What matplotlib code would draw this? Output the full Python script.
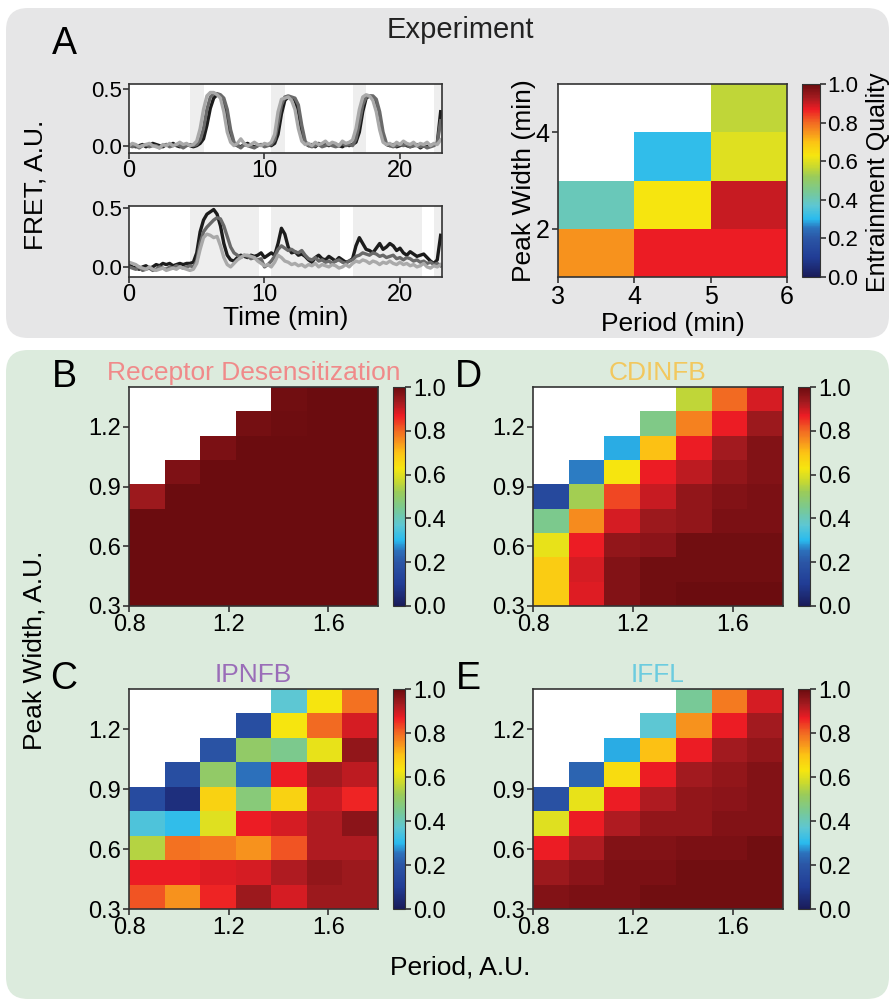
import numpy as np
import matplotlib
matplotlib.use("Agg")
import matplotlib.pyplot as plt
from matplotlib.colors import LinearSegmentedColormap
from matplotlib.patches import FancyBboxPatch
from matplotlib.transforms import IdentityTransform

plt.rcParams['font.family'] = ['Liberation Sans', 'DejaVu Sans']

# ---- experiment traces (FRET, sampled every 0.25 min) ----
time_step = 0.25
top_black = [0.01, 0.0, -0.01, 0.0, 0.01, -0.01, 0.0, 0.02, 0.01, 0.0, -0.01, 0.01, 0.0, 0.02, 0.0, -0.01, 0.0, 0.01, 0.0, -0.01,
             0.0, 0.02, 0.06,
             0.18, 0.33, 0.42, 0.45, 0.44, 0.38, 0.22, 0.07, 0.01,
             0.0, -0.01, 0.01, 0.02, 0.0, -0.01, 0.0, 0.01, 0.0, 0.01, 0.0,
             0.02, 0.1, 0.28, 0.4, 0.43, 0.42, 0.4, 0.3, 0.12, 0.02,
             0.0, 0.01, -0.01, 0.02, 0.0, 0.01, 0.0, 0.02, 0.01, 0.0, -0.01, 0.01, 0.0, 0.01,
             0.03, 0.12, 0.3, 0.42, 0.44, 0.43, 0.38, 0.22, 0.06, 0.01,
             0.0, 0.01, -0.01, 0.0, 0.01, 0.0, -0.01, 0.0, 0.01, -0.02, 0.0, -0.01, 0.0, 0.01, 0.02,
             0.3]
top_dark = [0.0, -0.01, 0.0, -0.02, 0.0, 0.01, -0.01, 0.0, 0.0, -0.02, 0.0, 0.01, -0.01, 0.0, 0.01, 0.0, -0.02, 0.0, 0.01, 0.0,
            0.01, 0.05, 0.15,
            0.32, 0.43, 0.46, 0.46, 0.45, 0.42, 0.32, 0.14, 0.03,
            0.0, -0.02, 0.01, 0.0, -0.01, -0.02, 0.0, 0.01, -0.01, 0.0, 0.01,
            0.05, 0.2, 0.36, 0.43, 0.44, 0.43, 0.42, 0.36, 0.18, 0.04,
            0.0, -0.01, 0.0, 0.01, -0.01, 0.0, 0.01, 0.0, -0.01, 0.0, 0.02, 0.0, 0.01, 0.0,
            0.06, 0.2, 0.36, 0.43, 0.44, 0.44, 0.41, 0.3, 0.12, 0.02,
            0.0, -0.01, 0.0, 0.01, 0.0, 0.01, -0.01, 0.0, 0.0, -0.01, 0.0, -0.02, -0.01, 0.0, 0.02,
            0.22]
top_light = [0.0, 0.02, 0.01, -0.01, 0.0, 0.01, 0.02, 0.0, -0.01, -0.02, 0.01, 0.0, 0.02, 0.0, 0.01, 0.03, 0.01, 0.02, 0.0, 0.01,
             0.04, 0.15, 0.32,
             0.44, 0.47, 0.47, 0.45, 0.42, 0.3, 0.12, 0.03, 0.0,
             0.02, 0.06, 0.02, 0.0, 0.01, 0.03, 0.01, 0.0, 0.02, 0.01, 0.03,
             0.1, 0.3, 0.41, 0.42, 0.43, 0.4, 0.32, 0.15, 0.04, 0.01,
             0.02, 0.0, 0.03, 0.01, 0.02, 0.04, 0.01, 0.03, 0.02, 0.0, 0.04, 0.02, 0.03, 0.05,
             0.15, 0.32, 0.43, 0.45, 0.44, 0.4, 0.3, 0.14, 0.03, 0.01,
             0.02, 0.0, 0.03, 0.01, 0.04, 0.02, 0.01, 0.03, 0.0, 0.02, 0.01, 0.03, 0.0, 0.02, 0.01,
             0.05]
bot_black = [0.02, 0.0, -0.01, -0.02, 0.0, 0.01, -0.01, 0.0, 0.02, 0.01, 0.03, 0.02, 0.03, 0.01, 0.02, 0.03, 0.02, 0.03, 0.03, 0.04,
             0.12, 0.3, 0.4, 0.45, 0.47, 0.49, 0.45, 0.35, 0.2, 0.1, 0.06, 0.05,
             0.08, 0.1, 0.09, 0.08, 0.1, 0.09, 0.1, 0.12, 0.08, 0.1, 0.12,
             0.1, 0.2, 0.33, 0.28, 0.17, 0.12, 0.13, 0.1, 0.11, 0.09,
             0.06, 0.04, 0.08, 0.1, 0.07, 0.06, 0.09, 0.07, 0.05, 0.08, 0.06, 0.04, 0.05, 0.07,
             0.18, 0.25, 0.2, 0.15, 0.14, 0.12, 0.16, 0.2, 0.15, 0.17,
             0.2, 0.18, 0.14, 0.16, 0.12, 0.1, 0.13, 0.11, 0.09, 0.1, 0.11, 0.08, 0.05, 0.03, 0.06,
             0.27]
bot_dark = [0.0, -0.01, -0.02, 0.0, -0.03, -0.02, -0.01, -0.03, -0.02, 0.0, -0.01, -0.02, 0.0, -0.01, 0.01, 0.0, -0.01, 0.0, 0.01, 0.0,
            0.05, 0.2, 0.3, 0.34, 0.37, 0.4, 0.42, 0.41, 0.35, 0.26, 0.17, 0.12,
            0.1, 0.08, 0.1, 0.09, 0.07, 0.08, 0.06, 0.07, 0.0, 0.02, 0.05,
            0.09, 0.15, 0.18, 0.16, 0.14, 0.15, 0.13, 0.12, 0.14, 0.1,
            0.07, 0.06, 0.08, 0.05, 0.06, 0.04, 0.05, 0.03, 0.05, 0.06, 0.04, 0.03, 0.05, 0.06,
            0.09, 0.1, 0.12, 0.11, 0.1, 0.12, 0.11, 0.09, 0.1, 0.08,
            0.09, 0.1, 0.07, 0.08, 0.06, 0.08, 0.07, 0.05, 0.06, 0.04, 0.05, 0.03, 0.04, 0.02, 0.03,
            0.01]
bot_light = [0.04, 0.03, 0.02, 0.0, -0.01, -0.02, 0.0, -0.02, -0.03, -0.02, -0.01, -0.03, -0.02, -0.01, -0.02, 0.0, -0.01, -0.02, -0.03, -0.02,
             0.03, 0.15, 0.25, 0.28, 0.27, 0.25, 0.26, 0.18, 0.08, 0.02, 0.0, 0.03,
             0.06, 0.08, 0.1, 0.1, 0.09, 0.08, 0.05, 0.03, 0.01, 0.02, 0.0,
             0.04, 0.1, 0.08, 0.05, 0.04, 0.02, 0.03, 0.01, 0.02, 0.0,
             0.02, 0.01, 0.03, 0.0, 0.02, 0.01, 0.0, 0.02, 0.01, -0.01, 0.0, 0.02, 0.0, 0.03,
             0.05, 0.04, 0.06, 0.05, 0.03, 0.05, 0.04, 0.02, 0.04, 0.03,
             0.05, 0.03, 0.02, 0.04, 0.02, 0.03, 0.01, 0.02, 0.0, 0.01, 0.03, 0.0, -0.01, 0.01, 0.0,
             0.02]

# stimulus windows (start, width) in minutes
stim_starts = [4.5, 10.5, 16.5, 22.5]
top_stim_width = 1.0
bot_stim_width = 5.1

# ---- experimental entrainment quality (rows: peak width 1-2,2-3,3-4,4-5) ----
exp_period_edges = [3, 4, 5, 6]
exp_width_edges = [1, 2, 3, 4, 5]
exp_quality = [[0.75, 0.87, 0.87],
               [0.40, 0.63, 0.90],
               [np.nan, 0.31, 0.60],
               [np.nan, np.nan, 0.56]]

# ---- model grids (rows bottom -> top, cols period 0.8 -> 1.8) ----
n = np.nan
period_edges = np.linspace(0.8, 1.8, 8)
width_edges = np.linspace(0.3, 1.4, 10)

receptor_desens = [[1.0, 1.0, 1.0, 1.0, 1.0, 1.0, 1.0],
                   [1.0, 1.0, 1.0, 1.0, 1.0, 1.0, 1.0],
                   [1.0, 1.0, 1.0, 1.0, 1.0, 1.0, 1.0],
                   [1.0, 1.0, 1.0, 1.0, 1.0, 1.0, 1.0],
                   [0.94, 1.0, 1.0, 1.0, 1.0, 1.0, 1.0],
                   [n, 0.975, 1.0, 1.0, 1.0, 1.0, 1.0],
                   [n, n, 0.98, 1.0, 1.0, 1.0, 1.0],
                   [n, n, n, 0.985, 0.995, 1.0, 1.0],
                   [n, n, n, n, 0.99, 1.0, 1.0]]

cdinfb = [[0.68, 0.88, 0.97, 0.99, 1.0, 1.0, 1.0],
          [0.68, 0.89, 0.97, 0.99, 0.99, 0.99, 0.99],
          [0.61, 0.87, 0.95, 0.96, 0.99, 0.99, 0.99],
          [0.45, 0.76, 0.89, 0.94, 0.95, 0.98, 0.98],
          [0.15, 0.53, 0.83, 0.90, 0.95, 0.97, 0.98],
          [n, 0.26, 0.63, 0.87, 0.91, 0.95, 0.97],
          [n, n, 0.29, 0.70, 0.87, 0.93, 0.97],
          [n, n, n, 0.46, 0.77, 0.87, 0.94],
          [n, n, n, n, 0.56, 0.80, 0.89]]

ipnfb = [[0.82, 0.75, 0.86, 0.94, 0.89, 0.94, 0.94],
         [0.87, 0.87, 0.88, 0.89, 0.92, 0.95, 0.94],
         [0.55, 0.79, 0.78, 0.75, 0.82, 0.92, 0.92],
         [0.35, 0.31, 0.60, 0.87, 0.89, 0.92, 0.96],
         [0.16, 0.06, 0.67, 0.48, 0.67, 0.90, 0.86],
         [n, 0.17, 0.50, 0.25, 0.87, 0.93, 0.91],
         [n, n, 0.19, 0.50, 0.45, 0.61, 0.95],
         [n, n, n, 0.17, 0.63, 0.80, 0.89],
         [n, n, n, n, 0.37, 0.63, 0.79]]

iffl = [[0.97, 0.98, 0.98, 0.99, 0.99, 0.99, 0.99],
        [0.94, 0.96, 0.98, 0.98, 0.99, 0.99, 0.99],
        [0.87, 0.92, 0.97, 0.97, 0.98, 0.98, 0.99],
        [0.60, 0.87, 0.92, 0.95, 0.95, 0.97, 0.97],
        [0.18, 0.61, 0.87, 0.92, 0.95, 0.96, 0.97],
        [n, 0.23, 0.65, 0.87, 0.93, 0.95, 0.97],
        [n, n, 0.29, 0.70, 0.87, 0.93, 0.95],
        [n, n, n, 0.37, 0.75, 0.87, 0.93],
        [n, n, n, n, 0.44, 0.78, 0.89]]

cmap = LinearSegmentedColormap.from_list('eq', [
    (0.00, '#1a1c5a'), (0.10, '#213d95'), (0.20, '#2b56a6'), (0.25, '#2c6fba'),
    (0.30, '#2abbee'), (0.37, '#5ec7d2'), (0.45, '#7cc98e'), (0.52, '#9acb5a'),
    (0.57, '#c8d930'), (0.63, '#f6e60f'), (0.70, '#fcc314'), (0.75, '#f7941d'),
    (0.80, '#f26a22'), (0.87, '#ed1c24'), (0.93, '#a51b20'), (1.00, '#6b0c0f')])
cmap.set_bad('white')

W, H = 892, 1002
fig = plt.figure(figsize=(W / 100, H / 100), dpi=100)


def ax_px(x0, y0, x1, y1):
    # pixel box (top-left origin) -> axes
    return fig.add_axes([x0 / W, 1 - y1 / H, (x1 - x0) / W, (y1 - y0) / H])


# background panels
for (x0, y0, x1, y1, col) in [(6, 8, 889, 338, '#e6e6e7'), (6, 350, 889, 999, '#dcebdd')]:
    fig.patches.append(FancyBboxPatch((x0, H - y1), x1 - x0, y1 - y0,
                                      boxstyle='round,pad=0,rounding_size=22',
                                      transform=IdentityTransform(), facecolor=col,
                                      edgecolor='none', zorder=-10))

spine_col = '#333333'


def style_spines(ax):
    for s in ax.spines.values():
        s.set_color(spine_col)
        s.set_linewidth(1.2)
    ax.tick_params(colors='black', width=1.2, length=4, color=spine_col)


# ---- traces ----
t = np.arange(len(top_black)) * time_step
trace_cols = ['#1c1c1c', '#6a6a6a', '#a9a9a9']
for (y0, y1, series, width, ylim, order) in [
        (84, 153, [top_black, top_dark, top_light], top_stim_width, (-0.065, 0.545), [0, 1, 2]),
        (206, 277, [bot_black, bot_dark, bot_light], bot_stim_width, (-0.086, 0.52), [1, 2, 0])]:
    ax = ax_px(129, y0, 442, y1)
    ax.set_facecolor('white')
    for s in stim_starts:
        ax.axvspan(s, s + width, color='#eeeeee', lw=0, zorder=0)
    for k in order:
        ax.plot(t, series[k], color=trace_cols[k], lw=2.4, zorder=2 + k * 0.1)
    ax.set_xlim(0, 23.1)
    ax.set_ylim(*ylim)
    ax.set_xticks([0, 10, 20])
    ax.set_yticks([0.0, 0.5])
    ax.set_yticklabels(['0.0', '0.5'])
    style_spines(ax)
    ax.tick_params(axis='x', labelsize=17, pad=1)
    ax.tick_params(axis='y', labelsize=16, pad=1)

fig.text(35 / W, 1 - 185 / H, 'FRET, A.U.', rotation=90, ha='center', va='center', fontsize=19)
fig.text(286 / W, 1 - 318 / H, 'Time (min)', ha='center', va='center', fontsize=19)

# ---- experiment heatmap ----
ax = ax_px(558, 84, 787, 277)
ax.pcolormesh(exp_period_edges, exp_width_edges, np.array(exp_quality), cmap=cmap, vmin=0, vmax=1)
ax.set_xticks([3, 4, 5, 6])
ax.set_yticks([2, 4])
style_spines(ax)
ax.tick_params(labelsize=18, pad=2)
ax.set_xlabel('Period (min)', fontsize=19, labelpad=2)
ax.set_ylabel('Peak Width (min)', fontsize=19, labelpad=0)
cax = ax_px(802, 84, 820, 277)
cb = fig.colorbar(plt.cm.ScalarMappable(cmap=cmap, norm=plt.Normalize(0, 1)), cax=cax,
                  ticks=[0, 0.2, 0.4, 0.6, 0.8, 1.0])
cb.ax.set_yticklabels(['0.0', '0.2', '0.4', '0.6', '0.8', '1.0'])
cb.outline.set_color(spine_col)
cb.ax.tick_params(labelsize=16, pad=1, width=1.2, length=4, color=spine_col)
fig.text(878 / W, 1 - 182 / H, 'Entrainment Quality', rotation=90, ha='center', va='center',
         fontsize=18)

fig.text(460 / W, 1 - 30 / H, 'Experiment', ha='center', va='center', fontsize=21, color='#222222')
fig.text(64 / W, 1 - 44 / H, 'A', ha='center', va='center', fontsize=27)

# ---- model heatmaps ----
panels = [('B', 'Receptor Desensitization', '#f08a8a', receptor_desens, 129, 387, 378, 606, 393),
          ('D', 'CDINFB', '#f2c85e', cdinfb, 533, 387, 783, 606, 798),
          ('C', 'IPNFB', '#9a6db8', ipnfb, 129, 689, 378, 909, 393),
          ('E', 'IFFL', '#6cccdf', iffl, 533, 689, 783, 909, 798)]
for (letter, title, tcol, data, x0, y0, x1, y1, cx) in panels:
    ax = ax_px(x0, y0, x1, y1)
    ax.pcolormesh(period_edges, width_edges, np.ma.masked_invalid(np.array(data)),
                  cmap=cmap, vmin=0, vmax=1)
    ax.set_xlim(0.8, 1.8)
    ax.set_ylim(0.3, 1.4)
    ax.set_xticks([0.8, 1.2, 1.6])
    ax.set_yticks([0.3, 0.6, 0.9, 1.2])
    style_spines(ax)
    ax.tick_params(labelsize=17, pad=2)
    ax.set_title(title, color=tcol, fontsize=19, pad=5)
    cax = ax_px(cx, y0, cx + 12, y1)
    cb = fig.colorbar(plt.cm.ScalarMappable(cmap=cmap, norm=plt.Normalize(0, 1)), cax=cax,
                      ticks=[0, 0.2, 0.4, 0.6, 0.8, 1.0])
    cb.ax.set_yticklabels(['0.0', '0.2', '0.4', '0.6', '0.8', '1.0'])
    cb.outline.set_color(spine_col)
    cb.ax.tick_params(labelsize=17, pad=2, width=1.2, length=4, color=spine_col)
    fig.text((x0 - 65) / W, 1 - (y0 - 10) / H, letter, ha='center', va='center', fontsize=27)

fig.text(35 / W, 1 - 650 / H, 'Peak Width, A.U.', rotation=90, ha='center', va='center', fontsize=19)
fig.text(460 / W, 1 - 968 / H, 'Period, A.U.', ha='center', va='center', fontsize=19)

fig.savefig('out.png', dpi=100)
